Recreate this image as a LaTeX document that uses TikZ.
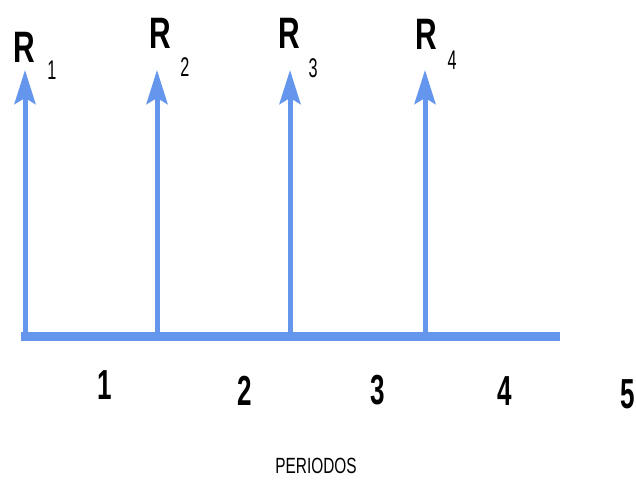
\documentclass[tikz,border=0pt]{standalone}
\usepackage{fontspec}
\setmainfont{Liberation Sans}
\usetikzlibrary{arrows.meta}
\definecolor{flowblue}{RGB}{100,150,238}
\tikzset{
  cashflow/.style={draw=flowblue,line width=5pt,-{Stealth[length=34pt,width=21pt,inset=6pt]}},
  baseline/.style={draw=flowblue,line width=9pt},
  rlabel/.style={inner sep=0pt,font=\bfseries\fontsize{44}{44}\selectfont,xscale=0.68},
  sublabel/.style={inner sep=0pt,font=\fontsize{27}{27}\selectfont,xscale=0.6},
  numlabel/.style={inner sep=0pt,font=\bfseries\fontsize{42}{42}\selectfont,xscale=0.62},
  periodlabel/.style={inner sep=0pt,font=\fontsize{22}{22}\selectfont,xscale=0.7}
}
\begin{document}
\begin{tikzpicture}[x=1pt,y=-1pt]
\useasboundingbox (0,0) rectangle (636,481);
\coordinate (b0) at (21,336);
\coordinate (b1) at (560,336);
\coordinate (f1) at (25,336);
\coordinate (f2) at (157,336);
\coordinate (f3) at (290,336);
\coordinate (f4) at (425,336);
\coordinate (t1) at (25,70);
\coordinate (t2) at (157,70);
\coordinate (t3) at (290,70);
\coordinate (t4) at (425,70);
\draw[baseline] (b0) -- (b1);
\draw[cashflow] (f1) -- (t1);
\draw[cashflow] (f2) -- (t2);
\draw[cashflow] (f3) -- (t3);
\draw[cashflow] (f4) -- (t4);
\node[rlabel] (r1) at (24,47) {R};
\node[sublabel] (s1) at (52,70) {1};
\node[rlabel] (r2) at (160,33) {R};
\node[sublabel] (s2) at (185,67) {2};
\node[rlabel] (r3) at (289,33) {R};
\node[sublabel] (s3) at (313,68) {3};
\node[rlabel] (r4) at (426,34) {R};
\node[sublabel] (s4) at (452,60) {4};
\node[numlabel] (n1) at (105,385) {1};
\node[numlabel] (n2) at (245,391) {2};
\node[numlabel] (n3) at (378,390) {3};
\node[numlabel] (n4) at (505,391) {4};
\node[numlabel] (n5) at (628,394) {5};
\node[periodlabel] (p) at (316,466) {PERIODOS};
\end{tikzpicture}
\end{document}
